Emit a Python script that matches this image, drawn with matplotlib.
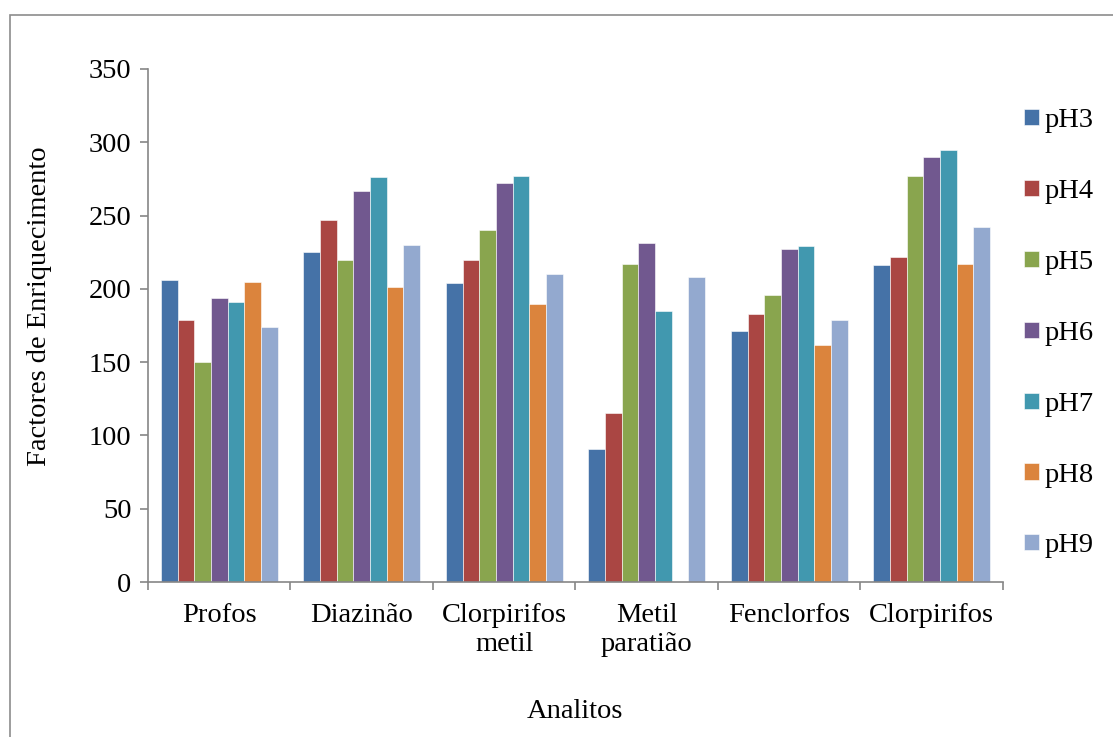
import numpy as np
import matplotlib
matplotlib.use("Agg")
import matplotlib.pyplot as plt
from matplotlib.patches import Rectangle

plt.rcParams['font.family'] = ['Liberation Serif', 'DejaVu Serif']

analitos = ["Profos", "Diazinão", "Clorpirifos\nmetil", "Metil\nparatião",
            "Fenclorfos", "Clorpirifos"]
series = ["pH3", "pH4", "pH5", "pH6", "pH7", "pH8", "pH9"]

ph3 = [206, 225, 204, 91, 171, 216]
ph4 = [179, 247, 220, 115, 183, 222]
ph5 = [150, 220, 240, 217, 196, 277]
ph6 = [194, 267, 272, 231, 227, 290]
ph7 = [191, 276, 277, 185, 229, 295]
ph8 = [205, 201, 190, 0, 162, 217]
ph9 = [174, 230, 210, 208, 179, 242]
values = [ph3, ph4, ph5, ph6, ph7, ph8, ph9]

colors = ["#4572A7", "#AA4643", "#89A54E", "#71588F", "#4198AF", "#DB843D", "#93A9CF"]

FS = 20.5
W, H = 1113, 737
fig = plt.figure(figsize=(W / 100, H / 100), dpi=100)
ax = fig.add_axes([148 / W, 1 - 582 / H, (1003 - 148) / W, (582 - 69) / H])

# outer chart frame (right and bottom run off the canvas)
fig.patches.append(Rectangle((9.5 / W, -0.1), 1.2, 1 - 14.5 / H + 0.1,
                             transform=fig.transFigure, fill=False,
                             edgecolor="#8c8c8c", linewidth=1.2, clip_on=False))

x = np.arange(len(analitos))
bw = 0.82 / len(series)
for i, (name, vals) in enumerate(zip(series, values)):
    offs = (i - (len(series) - 1) / 2) * bw
    ax.bar(x + offs, vals, width=bw, color=colors[i], edgecolor="white",
           linewidth=0.4, label=name)

ax.set_xlim(-0.5, len(analitos) - 0.5)
ax.set_ylim(0, 350)
ax.set_yticks(np.arange(0, 351, 50))

ax.set_xticks(x)
ax.set_xticklabels(analitos)
ax.set_xticks(np.arange(-0.5, len(analitos)), minor=True)
ax.tick_params(axis="x", which="major", length=0, pad=15, labelsize=FS)
ax.tick_params(axis="x", which="minor", length=6, width=1.2, color="#868686",
               direction="out")
ax.tick_params(axis="y", length=6, width=1.2, color="#868686", pad=6,
               labelsize=FS)

for side in ["top", "right"]:
    ax.spines[side].set_visible(False)
for side in ["left", "bottom"]:
    ax.spines[side].set_color("#868686")
    ax.spines[side].set_linewidth(1.2)

fig.text(40 / W, 1 - 306 / H, "Factores de Enriquecimento", rotation=90,
         ha="center", va="center", fontsize=FS)
fig.text(575 / W, 1 - 711 / H, "Analitos", ha="center", va="center", fontsize=FS)

ax.legend(loc="upper left", bbox_to_anchor=(1013 / W, 1 - 97 / H),
          bbox_transform=fig.transFigure, frameon=False, fontsize=FS,
          handlelength=0.5, handleheight=0.5, handletextpad=0.22,
          labelspacing=1.61, borderaxespad=0)

fig.savefig("out.png", dpi=100)
